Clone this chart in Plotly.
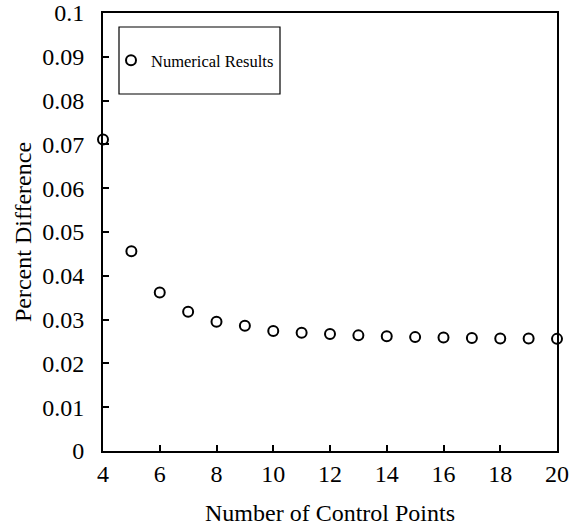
import plotly.graph_objects as go

# Convergence of the percent difference with the number of control points
control_points = list(range(4, 21))
percent_difference = [
    0.0711, 0.0456, 0.0362, 0.0318, 0.0295, 0.0286, 0.0274, 0.0270, 0.0267,
    0.0264, 0.0262, 0.0260, 0.0259, 0.0258, 0.0257, 0.0257, 0.0256,
]
series_name = "Numerical Results"
x_title = "Number of Control Points"
y_title = "Percent Difference"

FONT = "Liberation Serif, Times New Roman, serif"

fig = go.Figure()
fig.add_trace(go.Scatter(
    x=control_points,
    y=percent_difference,
    mode="markers",
    name=series_name,
    showlegend=True,
    cliponaxis=False,
    marker=dict(symbol="circle-open", size=10, color="black",
                line=dict(color="black", width=2)),
))

# legend frame
fig.add_shape(type="rect", xref="paper", yref="paper",
              x0=(119 - 103) / 454, x1=(280 - 103) / 454,
              y0=(451 - 94) / 438, y1=(451 - 27) / 438,
              line=dict(color="black", width=1.2), fillcolor="rgba(0,0,0,0)")

axis_common = dict(
    showgrid=False, zeroline=False, automargin=False,
    showline=True, linecolor="black", linewidth=2, mirror=True,
    ticks="inside", ticklen=6, tickwidth=2, tickcolor="black",
    tickfont=dict(family=FONT, size=24, color="black"),
)

fig.update_layout(
    width=571, height=529,
    margin=dict(l=103, r=14, t=13, b=78),
    paper_bgcolor="white", plot_bgcolor="white",
    font=dict(family=FONT, color="black"),
    xaxis=dict(range=[4, 20], dtick=2, tick0=4,
               title=dict(text=x_title, font=dict(family=FONT, size=24, color="black"), standoff=18),
               ticklabelstandoff=0,
               **axis_common),
    yaxis=dict(range=[0, 0.1], dtick=0.01, tick0=0,
               title=dict(text=y_title, font=dict(family=FONT, size=24, color="black"), standoff=4),
               ticklabelstandoff=12,
               **axis_common),
    legend=dict(x=(111 - 103) / 454, y=(451 - 60.5) / 438, xanchor="left", yanchor="middle",
                bgcolor="rgba(0,0,0,0)", borderwidth=0,
                font=dict(family=FONT, size=16.5, color="black")),
)

fig.write_html("out.html")
